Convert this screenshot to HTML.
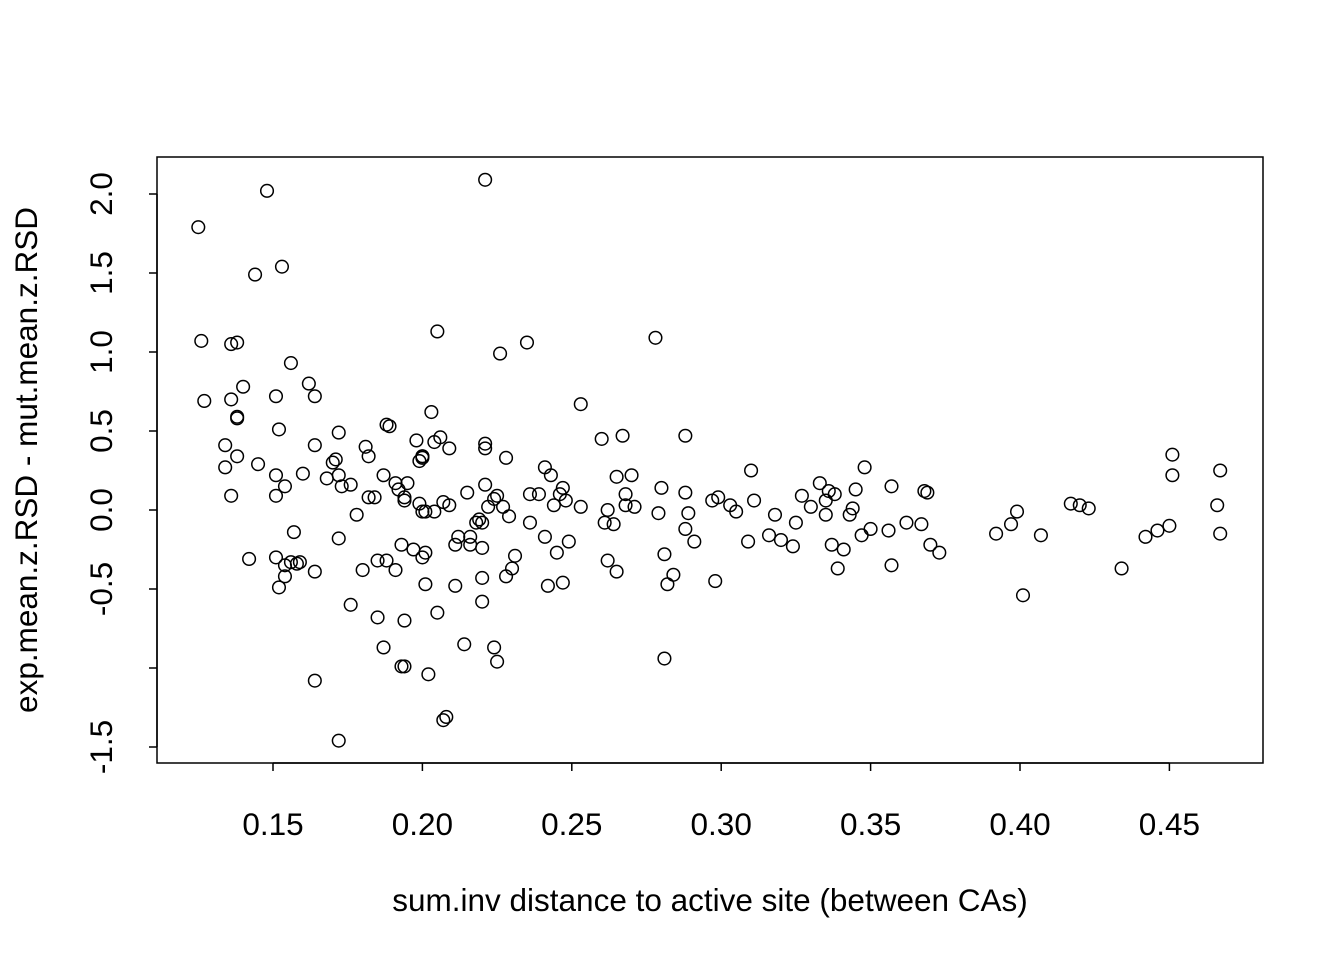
<!DOCTYPE html>
<html><head><meta charset="utf-8"><style>body{margin:0;background:#fff}svg{display:block}text{font-family:"Liberation Sans",Arial,sans-serif;fill:#000}</style></head>
<body>
<svg id="chart" width="1344" height="960" viewBox="0 0 1344 960" xmlns="http://www.w3.org/2000/svg">
<rect x="157" y="157" width="1106" height="606" fill="none" stroke="#000" stroke-width="1.5"/>
<g id="pts"></g>
<g id="axes"></g>
<text x="710" y="911" font-size="31.5" text-anchor="middle">sum.inv distance to active site (between CAs)</text>
<text transform="translate(37,460) rotate(-90)" font-size="31.5" text-anchor="middle">exp.mean.z.RSD - mut.mean.z.RSD</text>
</svg>
<script>
const xs=[0.125,0.126,0.127,0.148,0.144,0.153,0.136,0.138,0.140,0.136,0.134,0.134,0.138,0.138,0.138,0.136,0.145,0.142,0.151,0.152,0.151,0.151,0.154,0.151,0.154,0.154,0.152,0.156,0.162,0.164,0.157,0.156,0.159,0.158,0.160,0.164,0.164,0.164,0.168,0.170,0.171,0.172,0.172,0.173,0.176,0.172,0.172,0.176,0.178,0.180,0.181,0.182,0.182,0.184,0.185,0.185,0.187,0.187,0.188,0.188,0.189,0.191,0.191,0.192,0.193,0.194,0.194,0.195,0.193,0.194,0.194,0.197,0.198,0.199,0.200,0.200,0.200,0.199,0.200,0.201,0.200,0.201,0.201,0.202,0.203,0.204,0.204,0.205,0.205,0.206,0.207,0.207,0.208,0.209,0.209,0.211,0.211,0.212,0.214,0.215,0.216,0.216,0.218,0.219,0.220,0.220,0.221,0.221,0.220,0.220,0.221,0.222,0.224,0.225,0.224,0.225,0.226,0.228,0.227,0.228,0.229,0.230,0.231,0.235,0.236,0.236,0.239,0.241,0.241,0.242,0.243,0.244,0.245,0.246,0.247,0.248,0.247,0.249,0.253,0.253,0.260,0.261,0.262,0.262,0.264,0.265,0.265,0.267,0.268,0.268,0.270,0.271,0.278,0.279,0.280,0.281,0.282,0.284,0.281,0.288,0.288,0.288,0.289,0.291,0.297,0.298,0.299,0.303,0.305,0.309,0.310,0.311,0.316,0.318,0.320,0.324,0.325,0.327,0.330,0.333,0.335,0.335,0.336,0.337,0.338,0.339,0.341,0.343,0.344,0.345,0.347,0.348,0.350,0.357,0.356,0.357,0.362,0.367,0.368,0.369,0.370,0.373,0.392,0.397,0.399,0.401,0.407,0.417,0.420,0.423,0.434,0.442,0.446,0.450,0.451,0.451,0.466,0.467,0.467,0.221];
const ys=[1.79,1.07,0.69,2.02,1.49,1.54,1.05,1.06,0.78,0.70,0.41,0.27,0.34,0.59,0.58,0.09,0.29,-0.31,0.72,0.51,0.22,0.09,0.15,-0.30,-0.35,-0.42,-0.49,0.93,0.80,0.72,-0.14,-0.33,-0.33,-0.34,0.23,0.41,-0.39,-1.08,0.20,0.30,0.32,0.49,0.22,0.15,0.16,-0.18,-1.46,-0.60,-0.03,-0.38,0.40,0.34,0.08,0.08,-0.32,-0.68,0.22,-0.87,-0.32,0.54,0.53,-0.38,0.17,0.13,-0.22,0.08,0.06,0.17,-0.99,-0.99,-0.70,-0.25,0.44,0.31,0.34,0.33,0.34,0.04,-0.01,-0.01,-0.30,-0.27,-0.47,-1.04,0.62,-0.01,0.43,1.13,-0.65,0.46,0.05,-1.33,-1.31,0.39,0.03,-0.48,-0.22,-0.17,-0.85,0.11,-0.17,-0.22,-0.08,-0.06,-0.08,-0.24,0.42,0.39,-0.43,-0.58,0.16,0.02,-0.87,-0.96,0.07,0.09,0.99,0.33,0.02,-0.42,-0.04,-0.37,-0.29,1.06,0.10,-0.08,0.10,0.27,-0.17,-0.48,0.22,0.03,-0.27,0.10,0.14,0.06,-0.46,-0.20,0.67,0.02,0.45,-0.08,-0.32,0.00,-0.09,0.21,-0.39,0.47,0.10,0.03,0.22,0.02,1.09,-0.02,0.14,-0.28,-0.47,-0.41,-0.94,0.47,0.11,-0.12,-0.02,-0.20,0.06,-0.45,0.08,0.03,-0.01,-0.20,0.25,0.06,-0.16,-0.03,-0.19,-0.23,-0.08,0.09,0.02,0.17,0.06,-0.03,0.12,-0.22,0.10,-0.37,-0.25,-0.03,0.01,0.13,-0.16,0.27,-0.12,0.15,-0.13,-0.35,-0.08,-0.09,0.12,0.11,-0.22,-0.27,-0.15,-0.09,-0.01,-0.54,-0.16,0.04,0.03,0.01,-0.37,-0.17,-0.13,-0.10,0.35,0.22,0.03,0.25,-0.15,2.09];
const xTicks=[0.15,0.20,0.25,0.30,0.35,0.40,0.45];
const xTickLabels=["0.15","0.20","0.25","0.30","0.35","0.40","0.45"];
const yTicks=[-1.5,-1.0,-0.5,0.0,0.5,1.0,1.5,2.0];
const yTickLabels=["-1.5","","-0.5","0.0","0.5","1.0","1.5","2.0"];
const NS="http://www.w3.org/2000/svg";
function sx(v){return 273+(v-0.15)*2988;}
function sy(v){return 510-v*158;}
const pts=document.getElementById('pts'),axes=document.getElementById('axes');
function mk(t,a,p){const e=document.createElementNS(NS,t);for(const k in a)e.setAttribute(k,a[k]);p.appendChild(e);return e;}
xs.forEach((x,i)=>{const c=mk('circle',{cx:sx(x),cy:sy(ys[i]),r:6.3,fill:'none',stroke:'#000','stroke-width':1.5},pts);

});
mk('line',{x1:sx(xTicks[0]),x2:sx(xTicks[xTicks.length-1]),y1:763,y2:763,stroke:'#000','stroke-width':1.5},axes);
xTicks.forEach((v,i)=>{const l=mk('line',{x1:sx(v),x2:sx(v),y1:763,y2:771,stroke:'#000','stroke-width':1.5},axes);


const t=mk('text',{x:sx(v),y:835,'font-size':31.5,'text-anchor':'middle'},axes);t.textContent=xTickLabels[i];

});
mk('line',{x1:157,x2:157,y1:sy(yTicks[0]),y2:sy(yTicks[yTicks.length-1]),stroke:'#000','stroke-width':1.5},axes);
yTicks.forEach((v,i)=>{const l=mk('line',{x1:149,x2:157,y1:sy(v),y2:sy(v),stroke:'#000','stroke-width':1.5},axes);


if(yTickLabels[i]){const t=mk('text',{transform:'translate(112,'+sy(v)+') rotate(-90)','font-size':31.5,'text-anchor':'middle'},axes);t.textContent=yTickLabels[i];

}});
</script>
</body></html>
